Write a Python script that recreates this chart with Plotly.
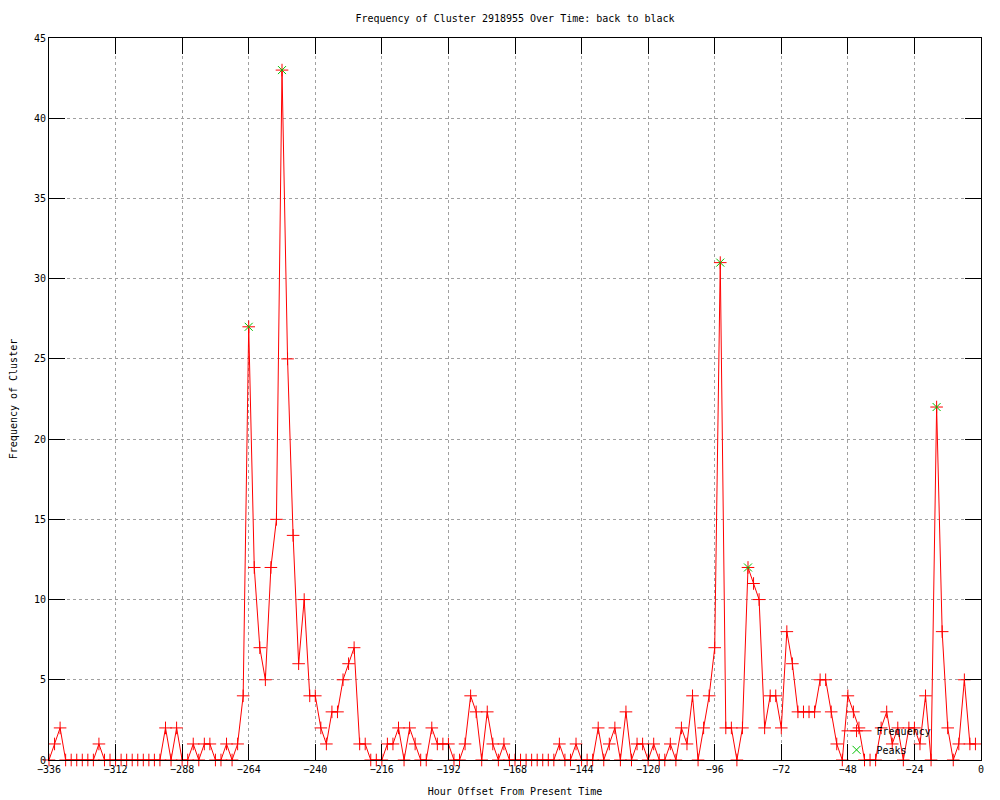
import plotly.graph_objects as go

# Hour offsets (every 2 hours from -336 to -2)
hours = list(range(-336, 0, 2))

frequency = [
    0, 1, 2, 0, 0, 0, 0, 0, 0, 1,
    0, 0, 0, 0, 0, 0, 0, 0, 0, 0,
    0, 2, 0, 2, 0, 0, 1, 0, 1, 1,
    0, 0, 1, 0, 1, 4, 27, 12, 7, 5,
    12, 15, 43, 25, 14, 6, 10, 4, 4, 2,
    1, 3, 3, 5, 6, 7, 1, 1, 0, 0,
    0, 1, 1, 2, 0, 2, 1, 0, 0, 2,
    1, 1, 1, 0, 0, 1, 4, 3, 0, 3,
    1, 0, 1, 0, 0, 0, 0, 0, 0, 0,
    0, 0, 1, 0, 0, 1, 0, 0, 0, 2,
    0, 1, 2, 0, 3, 0, 1, 1, 0, 1,
    0, 0, 1, 0, 2, 1, 4, 0, 2, 4,
    7, 31, 2, 2, 0, 2, 12, 11, 10, 2,
    4, 4, 2, 8, 6, 3, 3, 3, 3, 5,
    5, 3, 1, 0, 4, 3, 2, 0, 0, 0,
    2, 3, 1, 2, 0, 2, 2, 1, 4, 0,
    22, 8, 2, 0, 1, 5, 1, 1,
]

peak_hours = [-264, -252, -94, -84, -16]
peak_values = [27, 43, 31, 12, 22]

x_ticks = list(range(-336, 1, 24))
y_ticks = list(range(0, 46, 5))

font_family = "DejaVu Sans Mono"

fig = go.Figure()
fig.add_trace(go.Scatter(
    x=hours, y=frequency, name="Frequency",
    mode="lines+markers",
    line=dict(color="#ff0000", width=1),
    marker=dict(symbol="cross-thin-open", size=9, color="#ff0000",
                line=dict(color="#ff0000", width=1)),
    cliponaxis=False,
))
fig.add_trace(go.Scatter(
    x=peak_hours, y=peak_values, name="Peaks",
    mode="markers",
    marker=dict(symbol="x-thin-open", size=8, color="#00c000",
                line=dict(color="#00c000", width=1)),
    cliponaxis=False,
))

axis_common = dict(
    showline=True, linecolor="black", linewidth=1, mirror="ticks",
    ticks="inside", ticklen=16, tickcolor="black", tickwidth=1,
    showgrid=True, gridcolor="#a0a0a0", griddash="dot", gridwidth=1,
    zeroline=False, automargin=False,
    tickfont=dict(family=font_family, size=10, color="black"),
)

fig.update_layout(
    width=992, height=792,
    margin=dict(l=41, r=19, t=30, b=40),
    paper_bgcolor="white", plot_bgcolor="white",
    font=dict(family=font_family, size=10, color="black"),
    title=dict(text="Frequency of Cluster 2918955 Over Time: back to black",
               x=0.5, xref="paper", xanchor="center",
               y=0.987, yanchor="middle",
               font=dict(family=font_family, size=10, color="black")),
    xaxis=dict(range=[-336, 0], tickvals=x_ticks,
               title=dict(text="Hour Offset From Present Time", standoff=13,
                          font=dict(family=font_family, size=10)),
               **axis_common),
    yaxis=dict(range=[0, 45], tickvals=y_ticks,
               title=dict(text="Frequency of Cluster", standoff=14,
                          font=dict(family=font_family, size=10)),
               **axis_common),
    legend=dict(x=0.845, xanchor="left", y=-0.006, yanchor="bottom",
                bgcolor="rgba(0,0,0,0)", borderwidth=0,
                font=dict(family=font_family, size=10),
                tracegroupgap=0),
    showlegend=True,
)

fig.write_html("out.html")
